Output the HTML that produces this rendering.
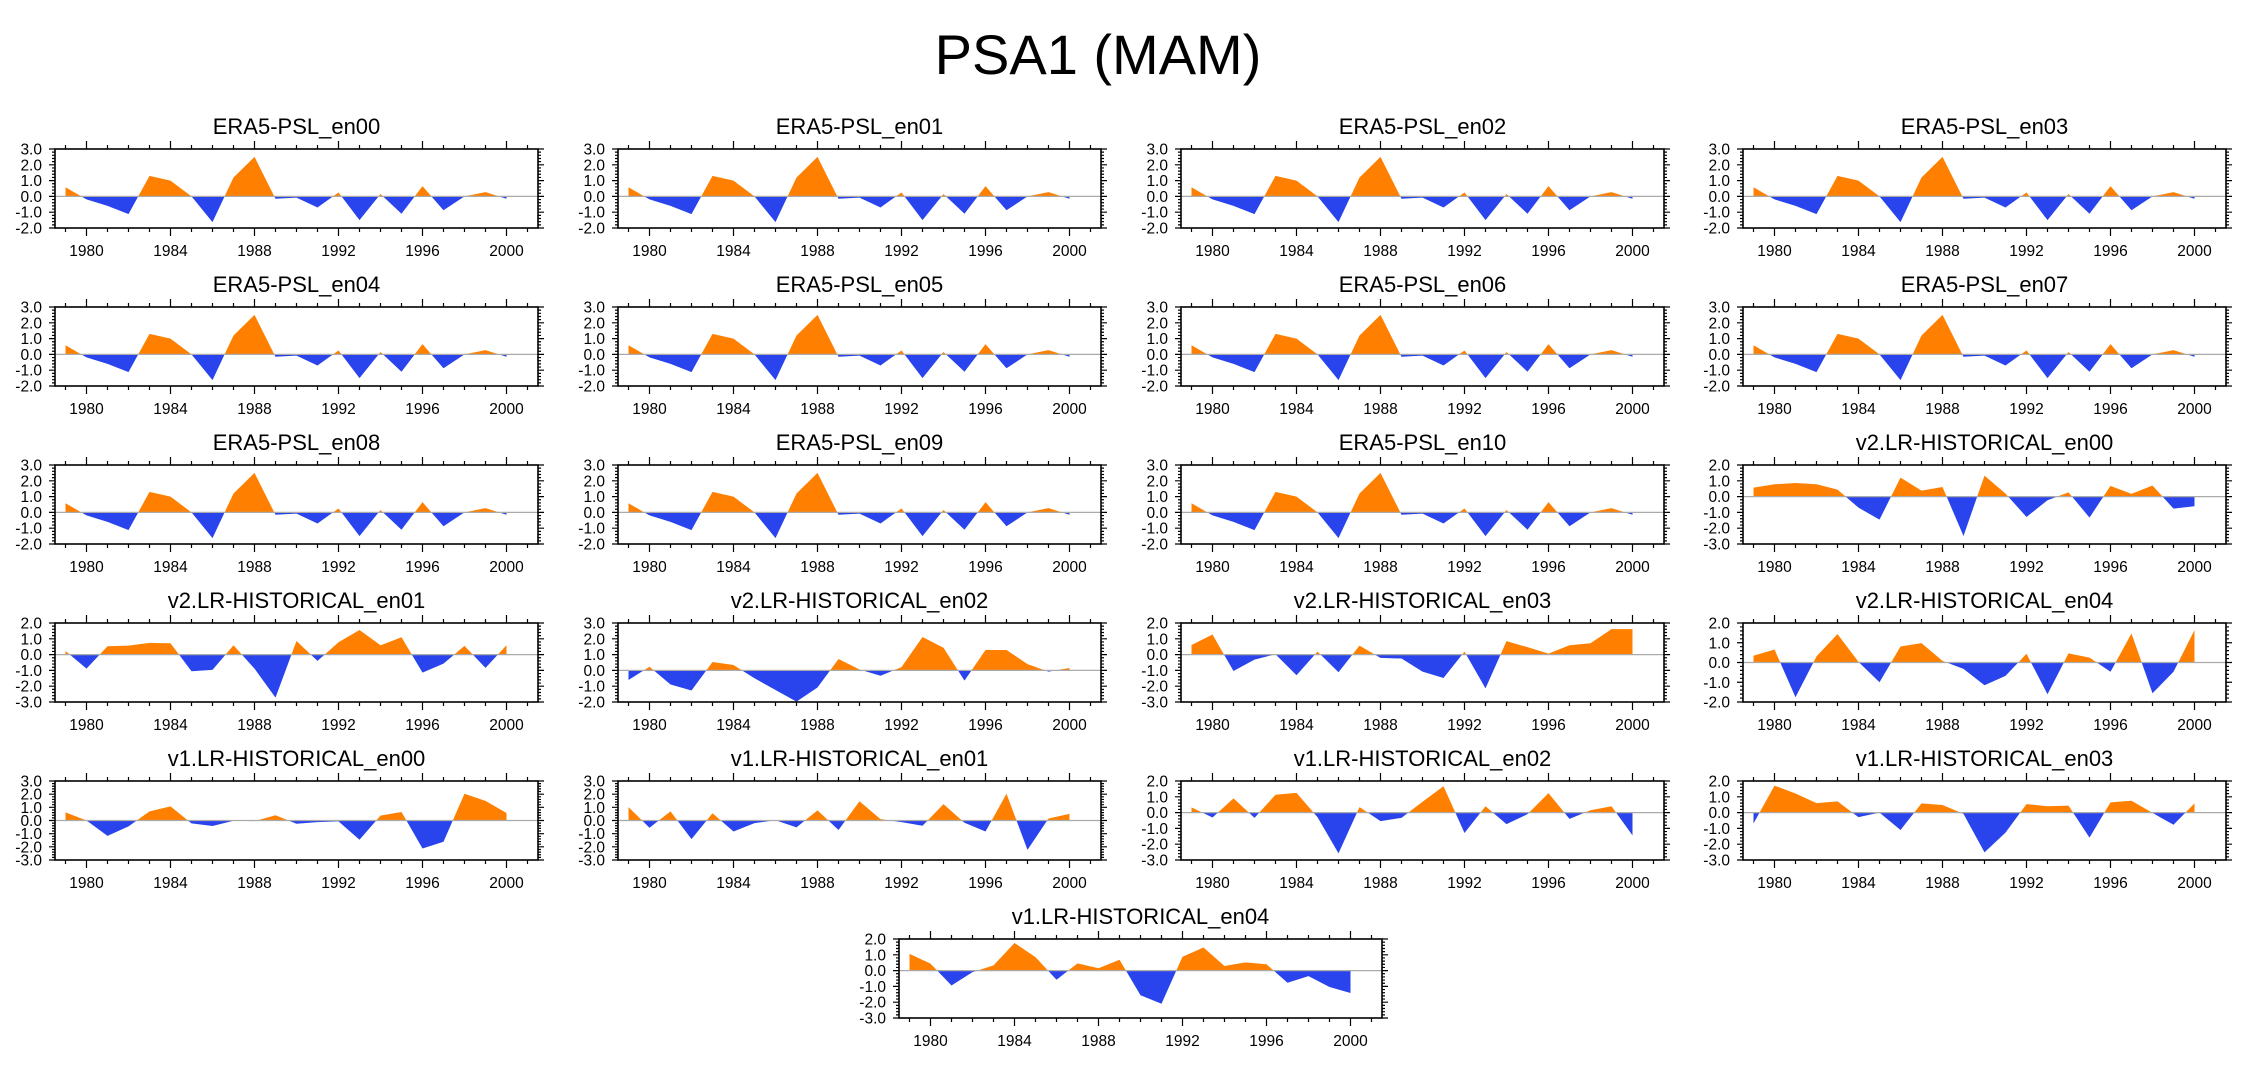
<!DOCTYPE html>
<html><head><meta charset="utf-8">
<style>
html,body{margin:0;padding:0;background:#fff;}
svg{display:block;font-family:"Liberation Sans",Arial,sans-serif;}
</style></head>
<body>
<svg id="fig" width="2252" height="1078" viewBox="0 0 2252 1078">
<text x="1098" y="74" text-anchor="middle" font-size="56" fill="#000">PSA1 (MAM)</text>
</svg>
<script>
const years = [1979,1980,1981,1982,1983,1984,1985,1986,1987,1988,1989,1990,1991,1992,1993,1994,1995,1996,1997,1998,1999,2000];
const era5 = [0.58,-0.19,-0.6,-1.12,1.3,1.0,0.0,-1.63,1.2,2.5,-0.15,-0.08,-0.7,0.25,-1.5,0.15,-1.1,0.65,-0.88,0.0,0.27,-0.15];
const v2en00 = [0.57,0.78,0.86,0.78,0.44,-0.70,-1.46,1.2,0.38,0.61,-2.49,1.33,0.19,-1.29,-0.23,0.27,-1.33,0.68,0.17,0.70,-0.76,-0.61];
const v2en01 = [0.23,-0.89,0.53,0.57,0.74,0.72,-1.05,-0.97,0.59,-0.89,-2.72,0.86,-0.40,0.78,1.56,0.59,1.10,-1.14,-0.57,0.55,-0.84,0.59];
const v2en02 = [-0.61,0.23,-0.89,-1.27,0.53,0.34,-0.5,-1.24,-1.98,-1.08,0.72,0.06,-0.34,0.21,2.11,1.43,-0.65,1.29,1.29,0.40,-0.08,0.15];
const v2en03 = [0.61,1.27,-1.04,-0.32,0.02,-1.31,0.19,-1.12,0.57,-0.21,-0.25,-1.08,-1.48,0.19,-2.14,0.85,0.47,0.06,0.59,0.72,1.61,1.61];
const v2en04 = [0.34,0.66,-1.76,0.31,1.44,0.03,-1.0,0.81,0.98,0.08,-0.32,-1.15,-0.68,0.44,-1.61,0.46,0.25,-0.47,1.47,-1.56,-0.47,1.64];
const v1en00 = [0.62,0.0,-1.17,-0.45,0.69,1.07,-0.22,-0.42,-0.02,-0.05,0.40,-0.25,-0.12,-0.07,-1.46,0.37,0.65,-2.13,-1.61,2.03,1.49,0.57];
const v1en01 = [1.02,-0.55,0.69,-1.41,0.55,-0.84,-0.2,0.02,-0.52,0.77,-0.72,1.46,0.1,-0.12,-0.40,1.24,-0.17,-0.84,2.03,-2.23,0.15,0.50];
const v1en02 = [0.33,-0.31,0.90,-0.33,1.13,1.25,-0.29,-2.58,0.35,-0.54,-0.33,0.69,1.67,-1.29,0.40,-0.73,-0.10,1.23,-0.40,0.15,0.40,-1.44];
const v1en03 = [-0.69,1.71,1.21,0.60,0.71,-0.29,0.0,-1.10,0.58,0.48,-0.08,-2.52,-1.27,0.54,0.40,0.44,-1.58,0.65,0.75,-0.02,-0.77,0.58];
const v1en04 = [1.06,0.44,-0.94,-0.10,0.33,1.75,0.85,-0.58,0.46,0.15,0.69,-1.56,-2.10,0.88,1.46,0.29,0.52,0.40,-0.77,-0.35,-1.04,-1.42];
const xTickYears = [1980,1984,1988,1992,1996,2000];
const panelTitles = ["ERA5-PSL_en00","ERA5-PSL_en01","ERA5-PSL_en02","ERA5-PSL_en03","ERA5-PSL_en04","ERA5-PSL_en05","ERA5-PSL_en06","ERA5-PSL_en07","ERA5-PSL_en08","ERA5-PSL_en09","ERA5-PSL_en10","v2.LR-HISTORICAL_en00","v2.LR-HISTORICAL_en01","v2.LR-HISTORICAL_en02","v2.LR-HISTORICAL_en03","v2.LR-HISTORICAL_en04","v1.LR-HISTORICAL_en00","v1.LR-HISTORICAL_en01","v1.LR-HISTORICAL_en02","v1.LR-HISTORICAL_en03","v1.LR-HISTORICAL_en04"];
const panelSeries = [era5,era5,era5,era5,era5,era5,era5,era5,era5,era5,era5,v2en00,v2en01,v2en02,v2en03,v2en04,v1en00,v1en01,v1en02,v1en03,v1en04];
const panelYMax = [3,3,3,3,3,3,3,3,3,3,3,2,2,3,2,2,3,3,2,2,2];
const panelYMin = [-2,-2,-2,-2,-2,-2,-2,-2,-2,-2,-2,-3,-3,-2,-3,-2,-3,-3,-3,-3,-3];

const NS = "http://www.w3.org/2000/svg";
const svg = document.getElementById('fig');
const colLeft = [55,618,1181,1743];
const rowTop = [149,307,465,623,781,939];
const W = 483, H = 79, X0 = 1978.5, X1 = 2001.5;
function mk(tag, attrs, parent){
  const e = document.createElementNS(NS, tag);
  for (const k in attrs) e.setAttribute(k, attrs[k]);
  (parent||svg).appendChild(e);
  return e;
}
function drawPanel(i){
  const r = Math.floor(i/4), c = i%4;
  const left = (i===20) ? 899 : colLeft[c];
  const top = rowTop[r];
  const ymax = panelYMax[i], ymin = panelYMin[i], data = panelSeries[i];
  const sx = y => left + (y - X0) / (X1 - X0) * W;
  const sy = v => top + (ymax - v) / (ymax - ymin) * H;
  const g = mk('g', {});
  
  
  const t = mk('text', {x: left + W/2, y: top - 15, 'text-anchor':'middle', 'font-size':22, fill:'#000'}, g);
  t.textContent = panelTitles[i];
  
  
  const y0 = sy(0);
  let d = 'M' + sx(years[0]) + ',' + y0;
  years.forEach((yr,k)=>{ d += ' L' + sx(yr) + ',' + sy(data[k]); });
  d += ' L' + sx(years[years.length-1]) + ',' + y0 + ' Z';
  const cpA = 'ca' + i, cpB = 'cb' + i;
  const defs = mk('defs', {}, g);
  const c1 = mk('clipPath', {id: cpA}, defs);
  mk('rect', {x:left, y:top - 5, width:W, height:y0 - top + 5}, c1);
  const c2 = mk('clipPath', {id: cpB}, defs);
  mk('rect', {x:left, y:y0, width:W, height:top + H - y0 + 5}, c2);
  const pos = mk('path', {d:d, fill:'#ff8000', 'clip-path':'url(#'+cpA+')'}, g);
  
  
  const neg = mk('path', {d:d, fill:'#2944ec', 'clip-path':'url(#'+cpB+')'}, g);
  
  
  const zl = mk('line', {x1:left, x2:left+W, y1:y0, y2:y0, stroke:'#aaa', 'stroke-width':1.2}, g);
  
  
  const box = mk('rect', {x:left, y:top, width:W, height:H, fill:'none', stroke:'#000', 'stroke-width':1.6}, g);
  
  
  let td = '';
  for (let yr = 1979; yr <= 2001; yr++){
    const x = sx(yr), major = (yr % 4 === 0), L = major ? 8 : 4;
    td += 'M'+x+','+(top+H)+' v'+L+' M'+x+','+top+' v'+(-L)+' ';
  }
  const steps = Math.round((ymax - ymin) / 0.2);
  for (let k = 0; k <= steps; k++){
    const v = ymin + k*0.2, y = sy(v), major = (k % 5 === 0), L = major ? 6 : 3;
    td += 'M'+left+','+y+' h'+(-L)+' M'+(left+W)+','+y+' h'+L+' ';
  }
  const ticks = mk('path', {d:td, stroke:'#000', 'stroke-width':1.2, fill:'none'}, g);
  
  
  xTickYears.forEach(yr=>{
    const lt = mk('text', {x:sx(yr), y:top+H+28, 'text-anchor':'middle', 'font-size':15.5, fill:'#000'}, g);
    lt.textContent = String(yr);
    
    
  });
  for (let v = ymax; v >= ymin; v--){
    const lt = mk('text', {x:left-13, y:sy(v)+5.5, 'text-anchor':'end', 'font-size':15.5, fill:'#000'}, g);
    lt.textContent = v.toFixed(1);
    
    
  }
}
for (let i = 0; i < panelTitles.length; i++) drawPanel(i);
</script>
</body></html>
